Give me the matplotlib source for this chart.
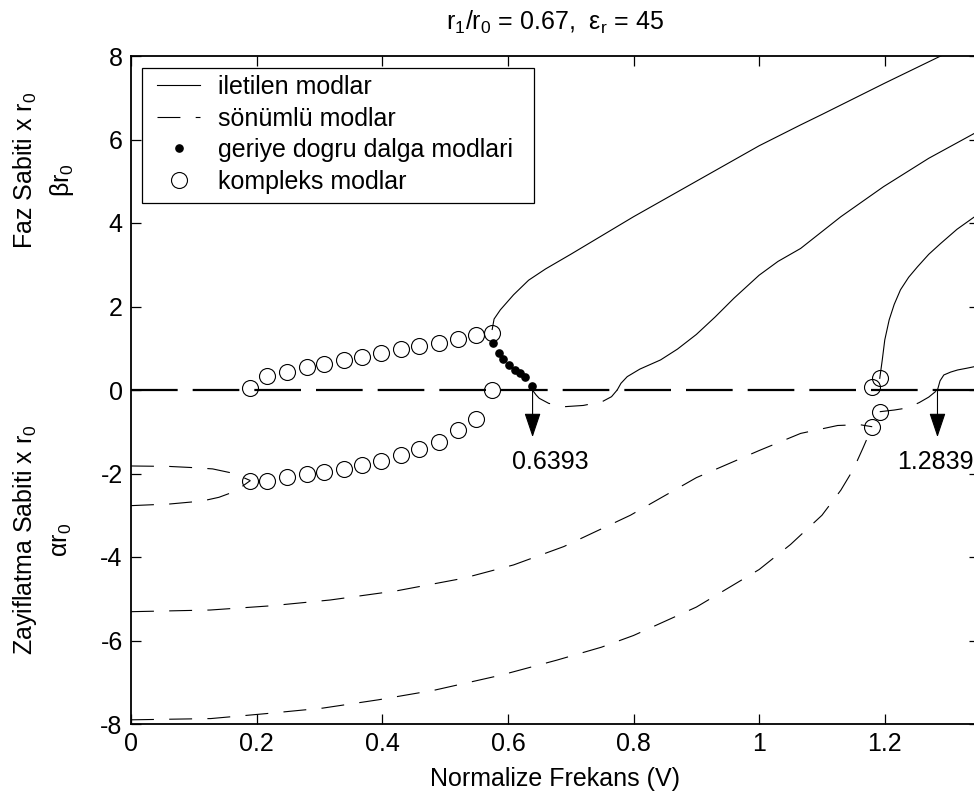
import matplotlib
matplotlib.use("Agg")
import matplotlib.pyplot as plt
from matplotlib.lines import Line2D
from matplotlib.patches import Rectangle
import numpy as np

plt.rcParams['font.family'] = ['Liberation Sans', 'DejaVu Sans']
plt.rcParams['mathtext.default'] = 'regular'
plt.rcParams['lines.scale_dashes'] = False
plt.rcParams['axes.unicode_minus'] = False

# ---------------- data ----------------
# complex modes (circles): beta (upper) and alpha (lower)
x_cplx = [0.190, 0.217, 0.249, 0.280, 0.308, 0.339, 0.367, 0.398, 0.430, 0.458, 0.490, 0.521, 0.550, 0.575]
beta_cplx = [0.05, 0.33, 0.43, 0.55, 0.63, 0.72, 0.80, 0.88, 0.98, 1.06, 1.13, 1.21, 1.31, 1.37]
alpha_cplx = [-2.17, -2.18, -2.08, -2.01, -1.97, -1.89, -1.80, -1.70, -1.56, -1.42, -1.24, -0.96, -0.70, 0.0]
x_cplx2 = [1.180, 1.192]
beta_cplx2 = [0.08, 0.28]
alpha_cplx2 = [-0.88, -0.52]

# backward wave modes (dots)
x_back = [0.577, 0.586, 0.592, 0.601, 0.612, 0.619, 0.627, 0.639]
y_back = [1.12, 0.89, 0.75, 0.61, 0.49, 0.40, 0.30, 0.10]

# propagating modes (solid)
xA = [0.575, 0.578, 0.588, 0.609, 0.633, 0.66, 0.70, 0.75, 0.80, 0.90, 1.00, 1.066, 1.10, 1.20, 1.289, 1.35]
yA = [1.45, 1.70, 1.92, 2.28, 2.63, 2.90, 3.25, 3.70, 4.15, 5.00, 5.85, 6.35, 6.60, 7.35, 8.00, 8.45]
xB = [0.774, 0.780, 0.790, 0.810, 0.843, 0.870, 0.90, 0.93, 0.96, 1.00, 1.03, 1.066, 1.13, 1.198, 1.27, 1.343]
yB = [0.00, 0.16, 0.32, 0.50, 0.72, 0.98, 1.33, 1.75, 2.20, 2.75, 3.08, 3.39, 4.15, 4.87, 5.55, 6.15]
xC = [1.192, 1.196, 1.200, 1.207, 1.215, 1.225, 1.238, 1.252, 1.270, 1.289, 1.315, 1.343]
yC = [0.28, 0.72, 1.20, 1.68, 2.05, 2.40, 2.70, 2.95, 3.25, 3.51, 3.85, 4.15]
xD = [1.2839, 1.288, 1.294, 1.305, 1.316, 1.330, 1.343]
yD = [0.00, 0.22, 0.36, 0.43, 0.48, 0.52, 0.56]

# evanescent modes (dashed)
xE = [0.639, 0.645, 0.650, 0.665, 0.690, 0.720, 0.750, 0.765, 0.774]
yE = [0.00, -0.12, -0.20, -0.32, -0.40, -0.37, -0.28, -0.16, 0.00]
xF = [0.0, 0.06, 0.10, 0.13, 0.158, 0.175, 0.19]
yF = [-1.82, -1.83, -1.86, -1.89, -1.98, -2.07, -2.17]
xG = [0.0, 0.062, 0.113, 0.14, 0.158, 0.175, 0.19]
yG = [-2.77, -2.73, -2.66, -2.57, -2.47, -2.33, -2.17]
xJ = [0.0, 0.126, 0.222, 0.317, 0.423, 0.529, 0.609, 0.689, 0.795, 0.90, 1.00, 1.066, 1.125, 1.16, 1.18]
yJ = [-5.31, -5.27, -5.17, -5.03, -4.81, -4.51, -4.19, -3.75, -3.00, -2.10, -1.45, -1.04, -0.85, -0.83, -0.88]
xK = [0.0, 0.127, 0.216, 0.305, 0.394, 0.483, 0.589, 0.678, 0.749, 0.80, 0.90, 1.00, 1.05, 1.10, 1.13, 1.15, 1.165, 1.18]
yK = [-7.90, -7.87, -7.75, -7.62, -7.42, -7.19, -6.83, -6.47, -6.16, -5.88, -5.20, -4.30, -3.70, -3.00, -2.40, -1.90, -1.40, -0.88]
xL = [1.192, 1.215, 1.236, 1.255, 1.270, 1.2839]
yL = [-0.52, -0.48, -0.43, -0.30, -0.17, 0.00]

cutoffs = [0.6393, 1.2839]
cutoff_labels = ['0.6393', '1.2839']

x_ticks = [0, 0.2, 0.4, 0.6, 0.8, 1.0, 1.2]
x_tick_labels = ['0', '0.2', '0.4', '0.6', '0.8', '1', '1.2']
y_ticks = [-8, -6, -4, -2, 0, 2, 4, 6, 8]
legend_labels = ['iletilen modlar', 'sönümlü modlar', 'geriye dogru dalga modlari', 'kompleks modlar']

# ---------------- figure ----------------
fig = plt.figure(figsize=(9.74, 8.0), dpi=100)
ax = fig.add_axes([131/974, 76/800, 848/974, 668/800])

FS = 18
LW = 0.8
DASH = (16.5, 11)

# y = 0 heavy dashed line
ax.plot([0, 1.35], [0, 0], color='k', lw=1.6, dashes=(33.6, 10.8))

solid_kw = dict(color='k', lw=LW)
dash_kw = dict(color='k', lw=LW, dashes=DASH)

ax.plot(xA, yA, **solid_kw)
ax.plot(xB, yB, **solid_kw)
ax.plot(xC, yC, **solid_kw)
ax.plot(xD, yD, **solid_kw)

ax.plot(xE, yE, **dash_kw)
ax.plot(xF, yF, **dash_kw)
ax.plot(xG, yG, **dash_kw)
ax.plot(xJ, yJ, **dash_kw)
ax.plot(xK, yK, **dash_kw)
ax.plot(xL, yL, **dash_kw)

circ_kw = dict(marker='o', ms=11.5, mfc='none', mec='k', mew=0.8, ls='none')
ax.plot(x_back, y_back, 'o', color='k', ms=5.2, mec='k', mfc='k', ls='none')
ax.plot(x_cplx, beta_cplx, **circ_kw)
ax.plot(x_cplx, alpha_cplx, **circ_kw)
ax.plot(x_cplx2, beta_cplx2, **circ_kw)
ax.plot(x_cplx2, alpha_cplx2, **circ_kw)

# cutoff arrows
for xc, lab, dx in zip(cutoffs, cutoff_labels, [-0.032, -0.064]):
    ax.annotate('', xy=(xc, -1.13), xytext=(xc, 0.0),
                arrowprops=dict(arrowstyle='-|>,head_length=0.95,head_width=0.32',
                                color='k', lw=0.8, shrinkA=0, shrinkB=0,
                                mutation_scale=16))
    ax.text(xc + dx, -1.73, lab, fontsize=FS, ha='left', va='center')

ax.set_xlim(0, 1.35)
ax.set_ylim(-8, 8)
ax.set_xticks(x_ticks)
ax.set_xticklabels(x_tick_labels)
ax.set_yticks(y_ticks)
ax.tick_params(direction='in', length=7, width=0.9, top=True, right=True,
               labelsize=FS, pad=6)
for s in ax.spines.values():
    s.set_linewidth(1.3)

ax.set_title(r'r$_1$/r$_0$ = 0.67,  $\varepsilon_r$ = 45', fontsize=FS, pad=19)
ax.set_xlabel('Normalize Frekans (V)', fontsize=FS, labelpad=8)

fig.text(25/974, 1 - 170/800, 'Faz Sabiti x r$_0$', rotation=90, fontsize=FS,
         ha='center', va='center')
fig.text(62/974, 1 - 180/800, r'$\beta$r$_0$', rotation=90, fontsize=FS,
         ha='center', va='center')
fig.text(25/974, 1 - 540/800, 'Zayiflatma Sabiti x r$_0$', rotation=90, fontsize=FS,
         ha='center', va='center')
fig.text(62/974, 1 - 540/800, r'$\alpha$r$_0$', rotation=90, fontsize=FS,
         ha='center', va='center')

# legend
h_solid = Line2D([], [], color='k', lw=LW)
h_dash = Line2D([], [], color='k', lw=LW, dashes=DASH)
h_dot = Line2D([], [], marker='o', color='k', ms=5.2, ls='none')
h_circ = Line2D([], [], **circ_kw)
leg = ax.legend([h_solid, h_dash, h_dot, h_circ], legend_labels,
                loc='upper left', bbox_to_anchor=((157-131)/848, (724-75)/668),
                fontsize=FS, frameon=False,
                handlelength=1.72, handletextpad=0.72, labelspacing=0.3,
                borderpad=0.0, borderaxespad=0)
ax.add_patch(Rectangle(((142-131)/848, (724-203)/668), (534-142)/848, (203-68)/668,
                       transform=ax.transAxes, fill=True, facecolor='white',
                       edgecolor='k', lw=0.9, zorder=4.9))
leg.set_zorder(5)

fig.savefig('out.png', dpi=100)
